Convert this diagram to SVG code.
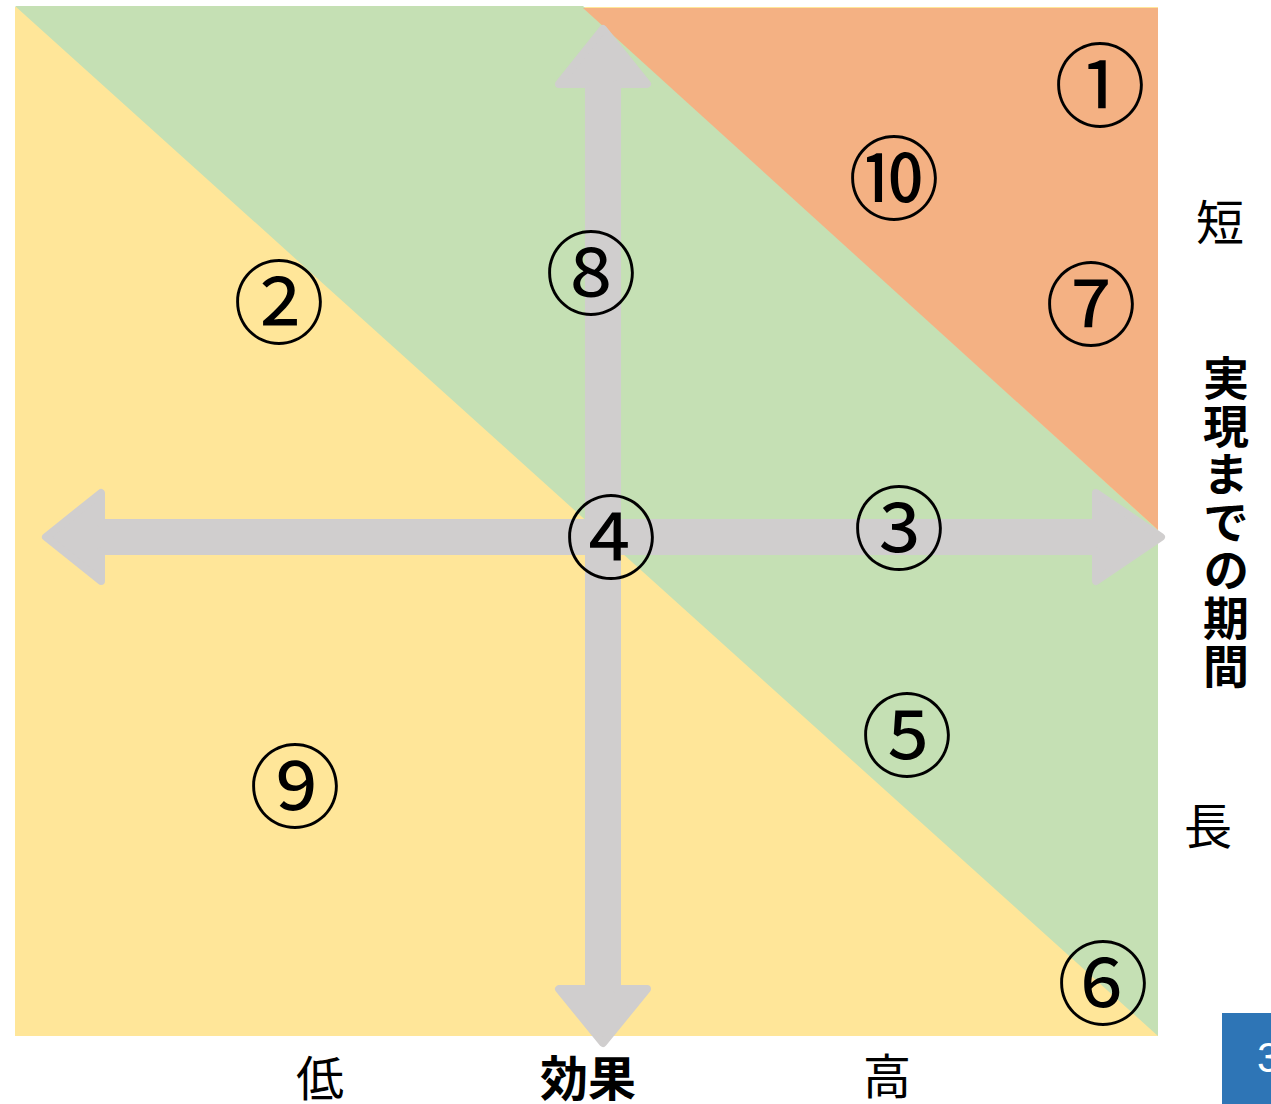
<svg xmlns="http://www.w3.org/2000/svg" width="1271" height="1104" viewBox="0 0 1271 1104">
<style>
.num{font-family:"Noto Sans CJK JP","DejaVu Sans",sans-serif;font-size:92px;fill:#000;text-anchor:middle}
.lbl{font-family:"Noto Sans CJK JP",sans-serif;font-size:48px;fill:#000;text-anchor:middle}
.bold{font-weight:bold}
.arrow{fill:#D0CECE;stroke:#D0CECE;stroke-width:8;stroke-linejoin:round}
</style>
<rect width="1271" height="1104" fill="#fff"/>
<g id="regions">
<rect id="low" x="15" y="7" width="1143" height="1029" fill="#FFE699"/>
<polygon id="mid" points="15,6 583,6 1158,530 1158,1036" fill="#C5E0B4"/>
<polygon id="high" points="583,8 1158,8 1158,530" fill="#F4B183"/>
</g>
<g id="axes">
<path class="arrow" d="M603,29 L647,84 L617,84 L617,989 L647,989 L603,1043 L559,989 L589,989 L589,84 L559,84 Z"/>
<path class="arrow" d="M46,537 L101,493 L101,523 L1096,523 L1096,493 L1161,537 L1096,581 L1096,551 L101,551 L101,581 Z"/>
</g>
<g id="n1"><text class="num" x="1100" y="120">①</text></g>
<g id="n10"><text class="num" x="894" y="213">⑩</text></g>
<g id="n7"><text class="num" x="1091" y="339">⑦</text></g>
<g id="n2"><text class="num" x="279" y="337">②</text></g>
<g id="n8"><text class="num" x="591" y="308">⑧</text></g>
<g id="n4"><text class="num" x="611" y="572">④</text></g>
<g id="n3"><text class="num" x="899" y="563">③</text></g>
<g id="n5"><text class="num" x="907" y="770">⑤</text></g>
<g id="n9"><text class="num" x="295" y="821">⑨</text></g>
<g id="n6"><text class="num" x="1103" y="1018">⑥</text></g>
<g id="labels">
<text class="lbl" x="1220" y="240">短</text>
<text class="lbl" x="1208" y="844">長</text>
<text class="lbl" x="320" y="1096">低</text>
<text class="lbl bold" x="588" y="1096">効果</text>
<text class="lbl" x="887" y="1094">高</text>
<text x="1226" y="355" font-family="Noto Sans CJK JP,sans-serif" font-size="46" font-weight="bold" writing-mode="vertical-rl" letter-spacing="2">実現までの期間</text>
</g>
<g id="page">
<rect x="1222" y="1013" width="49" height="91" fill="#2E75B6"/>
<text x="1257" y="1072" font-family="Liberation Sans,sans-serif" font-size="42" fill="#fff">3</text>
</g>
</svg>
